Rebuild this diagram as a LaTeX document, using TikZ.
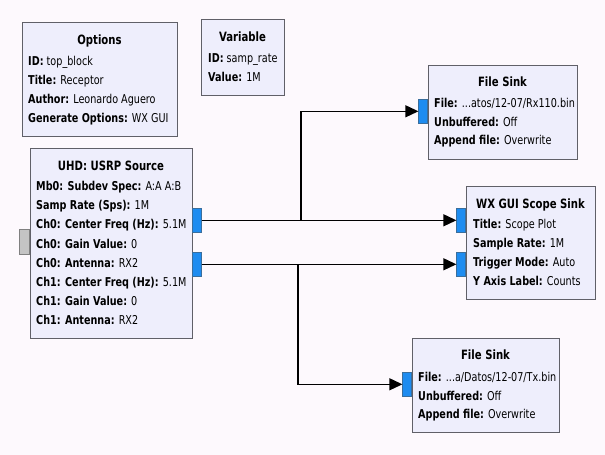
\documentclass[tikz,border=0pt]{standalone}
\usepackage{fontspec}
\setmainfont[FakeStretch=0.79]{DejaVu Sans}
\usetikzlibrary{arrows.meta}
\newcommand\trunc{...}
\definecolor{canvas}{HTML}{FDF9FD}
\definecolor{boxfill}{HTML}{EEEEFC}
\definecolor{boxline}{HTML}{606068}
\definecolor{portblue}{HTML}{1E8CF0}
\definecolor{portedge}{HTML}{3A6E9C}
\definecolor{portgray}{HTML}{C4C4C4}
\tikzset{
  blk/.style={draw=boxline, fill=boxfill, line width=1pt, inner sep=0pt, anchor=north west},
  ttl/.style={font=\fontsize{12.8}{19}\bfseries\selectfont, inner sep=0pt, anchor=base},
  row/.style={font=\fontsize{12.2}{19}\selectfont, inner sep=0pt, anchor=base west},
  outport/.style={draw=portedge, fill=portblue, line width=0.6pt, inner sep=0pt,
    minimum width=9pt, minimum height=24pt, anchor=north west},
  inport/.style={outport, anchor=north east},
  grayport/.style={draw=gray, fill=portgray, line width=0.6pt, inner sep=0pt,
    minimum width=10pt, minimum height=25pt, anchor=north east},
  wire/.style={draw=black, line width=1.2pt},
  feed/.style={wire, -{Triangle[length=13pt,width=12pt]}}
}
\begin{document}
\begin{tikzpicture}[x=1pt, y=-1pt]
  \fill[canvas] (0,0) rectangle (605,455);
  \useasboundingbox (0,0) rectangle (605,455);

  % Options block
  \node[blk, minimum width=155pt, minimum height=114pt] (opt) at (22,22) {};
  \node[ttl] (opt-t) at (99.5,44.5) {Options};
  \foreach \t [count=\i] in {{\textbf{ID:} top\_block},{\textbf{Title:} Receptor},
      {\textbf{Author:} Leonardo Aguero},{\textbf{Generate Options:} WX GUI}}
    \node[row] (opt-\i) at (28,{65.5+19*(\i-1)}) {\t};

  % Variable block
  \node[blk, minimum width=83pt, minimum height=76pt] (var) at (201,19) {};
  \node[ttl] (var-t) at (242.5,41.5) {Variable};
  \foreach \t [count=\i] in {{\textbf{ID:} samp\_rate},{\textbf{Value:} 1M}}
    \node[row] (var-\i) at (208,{62.5+19*(\i-1)}) {\t};

  % USRP source block with its ports
  \node[blk, minimum width=162pt, minimum height=190pt] (src) at (30,148) {};
  \node[ttl] (src-t) at (111,170.5) {UHD: USRP Source};
  \foreach \t [count=\i] in {{\textbf{Mb0: Subdev Spec:} A:A A:B},{\textbf{Samp Rate (Sps):} 1M},
      {\textbf{Ch0: Center Freq (Hz):} 5.1M},{\textbf{Ch0: Gain Value:} 0},
      {\textbf{Ch0: Antenna:} RX2},{\textbf{Ch1: Center Freq (Hz):} 5.1M},
      {\textbf{Ch1: Gain Value:} 0},{\textbf{Ch1: Antenna:} RX2}}
    \node[row] (src-\i) at (36,{190.5+19.2*(\i-1)}) {\t};
  \node[grayport] (src-in) at (30,229) {};
  \node[outport] (src-o0) at (192,208) {};
  \node[outport] (src-o1) at (192,252) {};

  % First file sink
  \node[blk, minimum width=149pt, minimum height=94pt] (fs1) at (428,65) {};
  \node[ttl] (fs1-t) at (502.5,86.5) {File Sink};
  \foreach \t [count=\i] in {{\textbf{File:} \trunc atos/12-07/Rx110.bin},{\textbf{Unbuffered:} Off},
      {\textbf{Append file:} Overwrite}}
    \node[row] (fs1-\i) at (434,{107.5+18.7*(\i-1)}) {\t};
  \node[inport] (fs1-i) at (428,99) {};

  % Scope sink
  \node[blk, minimum width=129pt, minimum height=113pt] (sc) at (466,186) {};
  \node[ttl] (sc-t) at (530.5,208.5) {WX GUI Scope Sink};
  \foreach \t [count=\i] in {{\textbf{Title:} Scope Plot},{\textbf{Sample Rate:} 1M},
      {\textbf{Trigger Mode:} Auto},{\textbf{Y Axis Label:} Counts}}
    \node[row] (sc-\i) at (473,{228.5+19*(\i-1)}) {\t};
  \node[inport] (sc-i0) at (466,208) {};
  \node[inport] (sc-i1) at (466,252) {};

  % Second file sink
  \node[blk, minimum width=147pt, minimum height=94pt] (fs2) at (412,338) {};
  \node[ttl] (fs2-t) at (485.5,359.5) {File Sink};
  \foreach \t [count=\i] in {{\textbf{File:} \trunc a/Datos/12-07/Tx.bin},{\textbf{Unbuffered:} Off},
      {\textbf{Append file:} Overwrite}}
    \node[row] (fs2-\i) at (418,{381.5+18.7*(\i-1)}) {\t};
  \node[inport] (fs2-i) at (412,372) {};

  % Branch points of the two streams
  \coordinate (j0) at (301,220);
  \coordinate (j1) at (298,264);

  % Connections
  \draw[feed] (src-o0.east) -- (sc-i0.west);
  \draw[feed] (src-o1.east) -- (sc-i1.west);
  \draw[feed] (j0) |- (fs1-i.west);
  \draw[feed] (j1) |- (fs2-i.west);
\end{tikzpicture}
\end{document}
